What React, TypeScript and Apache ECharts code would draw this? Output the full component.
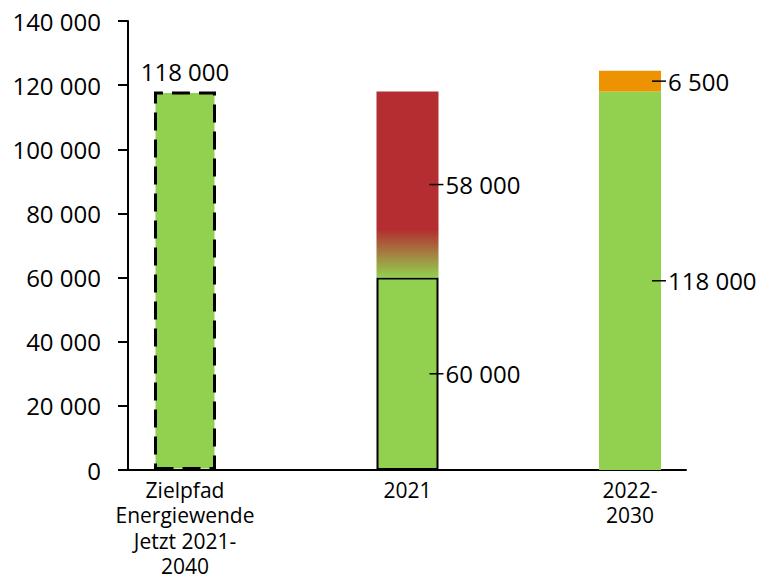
import React, { useEffect, useRef } from "react";
import * as echarts from "echarts";

const categories = ["Zielpfad\nEnergiewende\nJetzt 2021-\n2040", "2021", "2022-\n2030"];
const baseValues = [118000, 60000, 118000];
const topValues: (number | null)[] = [null, 58000, 6500];
const yMin = 0;
const yMax = 140000;
const yInterval = 20000;

const GREEN = "#92D050";
const RED = "#B42D30";
const ORANGE = "#ED9200";
const FONT = "'Open Sans', 'Noto Sans', sans-serif";

const fmt = (v: number) => String(v).replace(/\B(?=(\d{3})+(?!\d))/g, " ");

const rightLabel = {
  show: true,
  position: "right",
  distance: -9,
  formatter: (p: any) => `{l|}{v|${fmt(p.value)}}`,
  rich: {
    l: { width: 14, height: 1.5, backgroundColor: "#000" },
    v: { fontSize: 24, color: "#000", fontFamily: FONT, padding: [0, 0, 0, 2] },
  },
};

export default function App() {
  const ref = useRef<HTMLDivElement>(null);
  useEffect(() => {
    if (!ref.current) return;
    const chart = echarts.init(ref.current, undefined, { renderer: "svg" });
    const gradient = new echarts.graphic.LinearGradient(0, 0, 0, 1, [
      { offset: 0, color: RED },
      { offset: 0.74, color: RED },
      { offset: 1, color: GREEN },
    ]);
    const baseData = baseValues.map((v, i) => {
      if (i === 0) {
        return {
          value: v,
          itemStyle: { color: GREEN, borderColor: "#000", borderWidth: 3, borderType: [18, 9] },
          label: {
            show: true,
            position: "top",
            distance: 8,
            formatter: (p: any) => fmt(p.value),
            fontSize: 24,
            color: "#000",
            fontFamily: FONT,
          },
        };
      }
      if (i === 1) {
        return {
          value: v,
          itemStyle: { color: GREEN, borderColor: "#000", borderWidth: 2 },
          label: rightLabel,
        };
      }
      return { value: v, itemStyle: { color: GREEN }, label: rightLabel };
    });
    const topData = topValues.map((v, i) => {
      if (v == null) return { value: "-" };
      return {
        value: v,
        itemStyle: { color: i === 1 ? gradient : ORANGE },
        label: rightLabel,
      };
    });
    chart.setOption({
      animation: false,
      textStyle: { fontFamily: FONT },
      grid: [
        { left: 128, right: 72, top: 21, bottom: 109 },
        { left: 73.75, right: 16.75, top: 21, bottom: 109 },
      ],
      xAxis: [
        {
          type: "value",
          gridIndex: 0,
          min: 0,
          max: 1,
          axisLine: { show: true, onZero: false, lineStyle: { color: "#000", width: 2 } },
          axisTick: { show: false },
          axisLabel: { show: false },
          splitLine: { show: false },
        },
        {
          type: "category",
          gridIndex: 1,
          data: categories,
          axisLine: { show: false },
          axisTick: { show: false },
          axisLabel: {
            fontSize: 21,
            lineHeight: 25.5,
            color: "#000",
            fontFamily: FONT,
            margin: 7,
            interval: 0,
          },
        },
      ],
      yAxis: [
        {
          type: "value",
          gridIndex: 0,
          min: yMin,
          max: yMax,
          interval: yInterval,
          axisLine: { show: true, lineStyle: { color: "#000", width: 2 } },
          axisTick: { show: true, length: 10, lineStyle: { color: "#000", width: 2 } },
          axisLabel: {
            fontSize: 24,
            color: "#000",
            fontFamily: FONT,
            margin: 27,
            formatter: (v: number) => fmt(v),
          },
          splitLine: { show: false },
        },
        {
          type: "value",
          gridIndex: 1,
          min: yMin,
          max: yMax,
          interval: yInterval,
          show: false,
          splitLine: { show: false },
        },
      ],
      series: [
        {
          type: "bar",
          xAxisIndex: 1,
          yAxisIndex: 1,
          stack: "s",
          barWidth: 62,
          data: baseData,
        },
        {
          type: "bar",
          xAxisIndex: 1,
          yAxisIndex: 1,
          stack: "s",
          barWidth: 62,
          data: topData,
        },
      ],
    });
    return () => chart.dispose();
  }, []);
  return (
    <div
      ref={ref}
      style={{ position: "fixed", left: 0, top: 0, width: 758, height: 579, background: "#fff" }}
    />
  );
}
